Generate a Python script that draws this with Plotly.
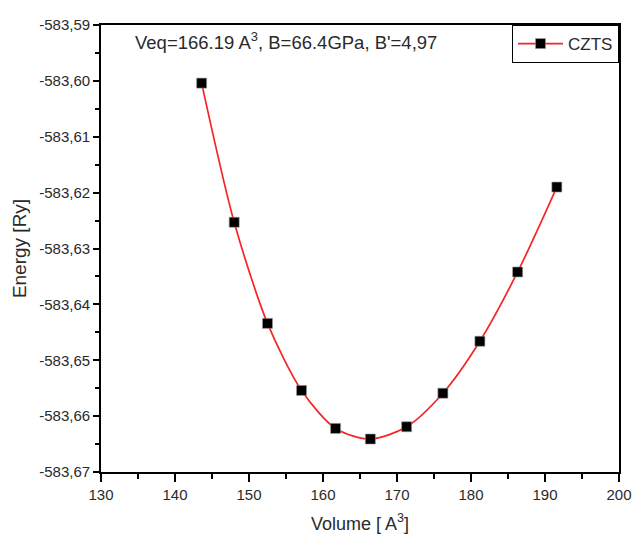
import plotly.graph_objects as go

# Total energy vs. unit-cell volume for CZTS (equation-of-state scan)
volume = [143.6, 148.0, 152.5, 157.1, 161.7, 166.4, 171.3, 176.2, 181.2, 186.3, 191.6]
energy = [-583.6004, -583.6253, -583.6434, -583.6554, -583.6622, -583.6641,
          -583.6619, -583.6559, -583.6466, -583.6342, -583.6190]

x_ticks = [130, 140, 150, 160, 170, 180, 190, 200]
y_ticks = [-583.59, -583.60, -583.61, -583.62, -583.63, -583.64, -583.65, -583.66, -583.67]
y_ticktext = ["-583,59", "-583,60", "-583,61", "-583,62", "-583,63",
              "-583,64", "-583,65", "-583,66", "-583,67"]

fit_label = "Veq=166.19 A<sup>3</sup>, B=66.4GPa, B'=4,97"

TEXT = "#2a2a2a"
FONT = "Liberation Sans, Arial, sans-serif"

fig = go.Figure()
fig.add_trace(go.Scatter(
    x=volume, y=energy, mode="lines+markers", name="CZTS",
    line=dict(color="#f52525", width=1.7, shape="spline", smoothing=0.8),
    marker=dict(symbol="square", size=10, color="black",
                line=dict(color="#999999", width=0.6)),
))

y_minor = [(a + b) / 2 for a, b in zip(y_ticks[:-1], y_ticks[1:])]
x_minor = [(a + b) / 2 for a, b in zip(x_ticks[:-1], x_ticks[1:])]

fig.update_layout(
    width=633, height=541, autosize=False,
    margin=dict(l=101, r=14, t=25, b=69, autoexpand=False),
    paper_bgcolor="white", plot_bgcolor="white",
    font=dict(family=FONT, color=TEXT, size=15),
    showlegend=True,
    legend=dict(x=1, y=1, xanchor="right", yanchor="top",
                bordercolor="black", borderwidth=1, bgcolor="white",
                font=dict(size=17, color=TEXT),
                itemwidth=45, tracegroupgap=0),
    xaxis=dict(
        range=[130, 200], tickmode="array", tickvals=x_ticks,
        ticks="outside", ticklen=8, tickwidth=1.5, tickcolor="black",
        showline=True, linecolor="black", linewidth=1.8, mirror=True,
        showgrid=False, zeroline=False, automargin=False,
        tickfont=dict(size=15, color=TEXT),
        minor=dict(tickvals=x_minor, ticks="outside", ticklen=5,
                   tickwidth=1.5, tickcolor="black", showgrid=False),
        title=dict(text="Volume [ A<sup>3</sup>]", font=dict(size=18, color=TEXT),
                   standoff=15),
    ),
    yaxis=dict(
        range=[-583.67, -583.59], tickmode="array", tickvals=y_ticks,
        ticktext=y_ticktext,
        ticks="outside", ticklen=6, tickwidth=1.5, tickcolor="black",
        showline=True, linecolor="black", linewidth=1.8, mirror=True,
        showgrid=False, zeroline=False, automargin=False,
        tickfont=dict(size=15, color=TEXT),
        minor=dict(tickvals=y_minor, ticks="outside", ticklen=4,
                   tickwidth=1.5, tickcolor="black", showgrid=False),
        title=dict(text="Energy [Ry]", font=dict(size=19, color=TEXT),
                   standoff=8),
    ),
    annotations=[dict(
        text=fit_label, xref="paper", yref="paper", x=0.062, y=0.965,
        xanchor="left", yanchor="middle", showarrow=False,
        font=dict(size=18.5, color=TEXT),
    )],
)

fig.write_html("out.html")
